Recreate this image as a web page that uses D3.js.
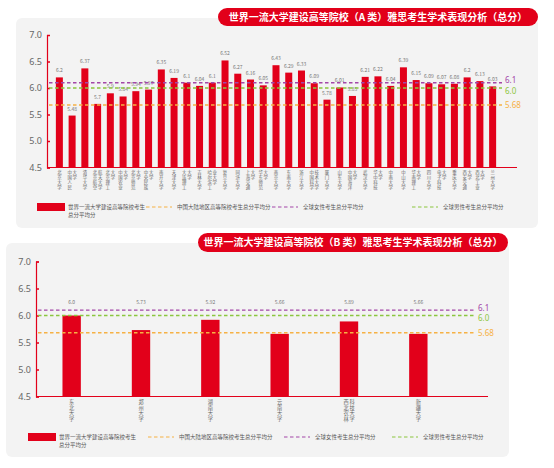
<!DOCTYPE html>
<html lang="zh">
<head>
<meta charset="UTF-8">
<title>雅思考生学术表现分析</title>
<style>
  body { margin: 0; background: #fff; }
  svg { display: block; font-family: "Noto Sans CJK SC", "Noto Sans", sans-serif; }
</style>
</head>
<body>
<div id="chart-container"></div>
<script src="https://cdn.jsdelivr.net/npm/d3@7/dist/d3.min.js"></script>
<script>
// A 类院校与总分
const aSchools = ["北京大学", "中国人民大学", "清华大学", "北京航空航天大学", "北京理工大学", "中国农业大学",
  "北京师范大学", "中央民族大学", "南开大学", "天津大学", "大连理工大学", "吉林大学", "哈尔滨工业大学",
  "复旦大学", "同济大学", "上海交通大学", "华东师范大学", "南京大学", "东南大学", "浙江大学",
  "中国科学技术大学", "厦门大学", "山东大学", "中国海洋大学", "武汉大学", "华中科技大学", "中南大学",
  "中山大学", "华南理工大学", "四川大学", "电子科技大学", "重庆大学", "西安交通大学", "西北工业大学", "兰州大学"];
const aScores = [6.2, 5.48, 6.37, 5.7, 5.9, 5.84, 5.94, 5.97, 6.35, 6.19, 6.1, 6.04, 6.1,
  6.52, 6.27, 6.16, 6.05, 6.43, 6.29, 6.33, 6.09, 5.78, 6.01, 5.85, 6.21, 6.22, 6.04,
  6.39, 6.15, 6.09, 6.07, 6.08, 6.2, 6.13, 6.03];

// B 类院校与总分
const bSchools = ["东北大学", "郑州大学", "湖南大学", "云南大学", "西北农林科技大学", "新疆大学"];
const bScores = [6.0, 5.73, 5.92, 5.66, 5.89, 5.66];

// 参考线
const refNames = ["全球女性考生总分平均分", "全球男性考生总分平均分", "中国大陆地区高等院校考生总分平均分"];
const refValues = [6.1, 6.0, 5.68];
const refLabels = ["6.1", "6.0", "5.68"];
const yTicks = [4.5, 5.0, 5.5, 6.0, 6.5, 7.0];

const RED = "#e2001a";
const refColors = ["#a347a8", "#8cc63f", "#f6b144"];
const refNudge = [-2.5, 2.5, 0];

const svg = d3.select("#chart-container").append("svg")
  .attr("width", 554).attr("height", 468);

function verticalLabel(g, name, cx, y0, size) {
  // 每列最多 4 个字，从左到右排列
  const cols = [];
  for (let i = 0; i < name.length; i += 4) cols.push(name.slice(i, i + 4));
  const colW = size * 1.15;
  g.selectAll(null).data(cols).enter().append("text")
    .attr("x", (d, c) => cx + (c - (cols.length - 1) / 2) * colW)
    .attr("y", y0)
    .style("writing-mode", "vertical-rl")
    .style("text-orientation", "upright")
    .style("letter-spacing", (size * 0.08) + "px")
    .style("font-size", size + "px")
    .style("fill", "#666")
    .text(d => d);
}

function drawChart(cfg) {
  const g = svg.append("g");

  // 灰色背景
  g.append("rect")
    .attr("x", cfg.panel[0]).attr("y", cfg.panel[1])
    .attr("width", cfg.panel[2]).attr("height", cfg.panel[3])
    .attr("rx", 6).attr("fill", "#f3f3f3");

  // 标题
  g.append("rect")
    .attr("x", cfg.title[0]).attr("y", cfg.title[1])
    .attr("width", cfg.title[2]).attr("height", cfg.title[3])
    .attr("rx", cfg.title[3] / 2).attr("fill", RED);
  g.append("text")
    .attr("x", cfg.title[0] + cfg.title[2] / 2)
    .attr("y", cfg.title[1] + cfg.title[3] / 2 + 3.6)
    .attr("text-anchor", "middle")
    .style("font-size", "10px").style("font-weight", "bold").style("fill", "#fff")
    .text(cfg.titleText);

  const x = d3.scaleBand().domain(cfg.names).range(cfg.xRange).paddingInner(cfg.pad).paddingOuter(cfg.pad / 2);
  const y = d3.scaleLinear().domain([4.5, 7.0]).range(cfg.yRange);

  // y 轴
  const yAxis = g.append("g")
    .attr("transform", "translate(" + cfg.axisX + ",0)")
    .call(d3.axisLeft(y).tickValues(yTicks).tickFormat(d3.format(".1f")).tickSize(-3).tickPadding(5));
  yAxis.select(".domain").attr("stroke", RED).attr("stroke-width", 1.2);
  yAxis.selectAll(".tick line").attr("stroke", RED).attr("stroke-width", 1.5);
  yAxis.selectAll(".tick text").style("font-size", "9px").style("fill", "#666")
    .style("font-family", "\"Noto Sans\", sans-serif");

  // 柱子
  g.selectAll(null).data(cfg.scores).enter().append("rect")
    .attr("x", (d, i) => x(cfg.names[i]))
    .attr("y", d => y(d))
    .attr("width", x.bandwidth())
    .attr("height", d => y(4.5) - y(d))
    .attr("fill", RED);

  // x 轴线
  g.append("line")
    .attr("x1", cfg.axisX).attr("x2", cfg.axisEnd)
    .attr("y1", y(4.5)).attr("y2", y(4.5))
    .attr("stroke", RED).attr("stroke-width", 1.2);

  // 数值标签
  g.selectAll(null).data(cfg.scores).enter().append("text")
    .attr("x", (d, i) => x(cfg.names[i]) + x.bandwidth() / 2)
    .attr("y", d => cfg.labelY ? cfg.labelY : y(d) - 5)
    .attr("text-anchor", "middle")
    .style("font-size", "5px").style("fill", "#777")
    .text(d => d3.format(".2~f")(d).replace(/^6$/, "6.0"));

  // 参考线
  refValues.forEach(function(v, i) {
    g.append("line")
      .attr("x1", cfg.axisX + 2).attr("x2", cfg.refEnd)
      .attr("y1", y(v)).attr("y2", y(v))
      .attr("stroke", refColors[i]).attr("stroke-width", 1.4)
      .attr("stroke-dasharray", "3.5,2.5");
    g.append("text")
      .attr("x", cfg.refEnd + 3).attr("y", y(v) + 3 + refNudge[i])
      .style("font-size", "8px").style("fill", refColors[i])
      .style("font-family", "\"Noto Sans\", sans-serif")
      .text(refLabels[i]);
  });

  // x 轴标签
  cfg.names.forEach(function(n) {
    verticalLabel(g, n, x(n) + x.bandwidth() / 2, y(4.5) + 3, cfg.labelSize);
  });

  // 图例
  const ly = cfg.legendY;
  g.append("rect").attr("x", cfg.legendX[0]).attr("y", ly - 4)
    .attr("width", 28).attr("height", 8).attr("fill", RED);
  g.append("text").attr("x", cfg.legendX[0] + 31).attr("y", ly + 2)
    .style("font-size", "5.5px").style("fill", "#555").text("世界一流大学建设高等院校考生");
  g.append("text").attr("x", cfg.legendX[0] + 31).attr("y", ly + 10)
    .style("font-size", "5.5px").style("fill", "#555").text("总分平均分");
  [2, 0, 1].forEach(function(ri, k) {
    const lx = cfg.legendX[k + 1];
    g.append("line").attr("x1", lx).attr("x2", lx + 26)
      .attr("y1", ly).attr("y2", ly)
      .attr("stroke", refColors[ri]).attr("stroke-width", 1.2)
      .attr("stroke-dasharray", "3.5,2.5");
    g.append("text").attr("x", lx + 31).attr("y", ly + 2)
      .style("font-size", "5.5px").style("fill", "#555").text(refNames[ri]);
  });
}

drawChart({
  names: aSchools, scores: aScores,
  panel: [16, 18, 522, 210],
  title: [218, 8, 320, 18],
  titleText: "世界一流大学建设高等院校（A 类）雅思考生学术表现分析（总分）",
  xRange: [53, 499], pad: 0.45,
  yRange: [167.5, 35],
  axisX: 47, axisEnd: 517, refEnd: 502,
  labelSize: 4.4,
  legendY: 207,
  legendX: [37, 146, 272, 412]
});

drawChart({
  names: bSchools, scores: bScores,
  panel: [6, 243, 503, 214],
  title: [198, 233, 310, 19],
  titleText: "世界一流大学建设高等院校（B 类）雅思考生学术表现分析（总分）",
  xRange: [37, 453], pad: 0.735,
  yRange: [396.5, 261.5],
  axisX: 36, axisEnd: 488, refEnd: 475,
  labelY: 304,
  labelSize: 5.2,
  legendY: 437,
  legendX: [28, 148, 284, 392]
});
</script>
</body>
</html>
